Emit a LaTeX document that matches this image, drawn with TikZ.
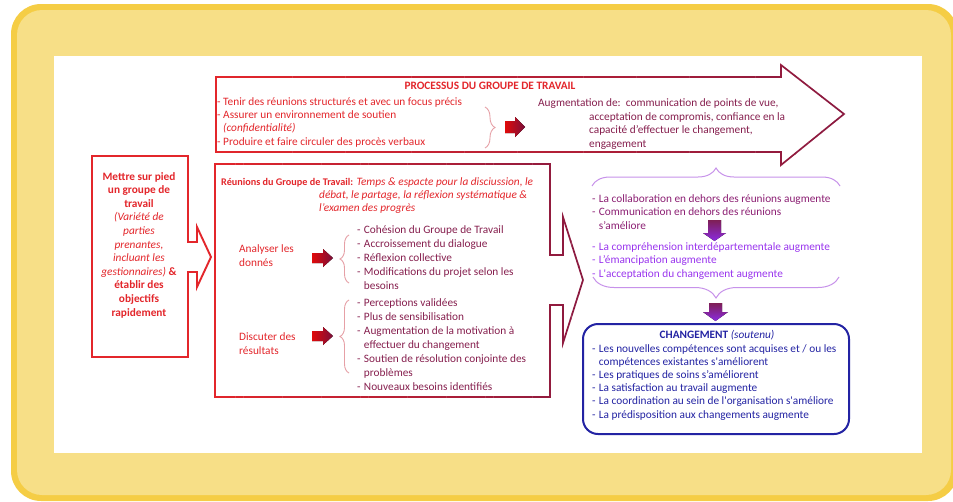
\documentclass[tikz,border=0pt]{standalone}
\usepackage{fontspec}
\setmainfont{Carlito}[Ligatures=TeXOff]
\usetikzlibrary{decorations.pathreplacing}
\definecolor{ydark}{HTML}{F5CD45}
\definecolor{ylight}{HTML}{F7DF87}
\definecolor{cred}{HTML}{E3262B}
\definecolor{cmar}{HTML}{8B1A40}
\definecolor{ctxt}{HTML}{861F4E}
\definecolor{cpur}{HTML}{8C1F73}
\definecolor{cvio}{HTML}{9A35EE}
\definecolor{cbrace}{HTML}{C792EA}
\definecolor{cblue}{HTML}{2323A3}
\definecolor{cpink}{HTML}{E6A0A6}
\definecolor{arrA}{HTML}{E00A0A}
\definecolor{arrB}{HTML}{7A0F3A}
\definecolor{darrA}{HTML}{7E1F55}
\definecolor{darrB}{HTML}{8B2BE2}
\newcommand\mylines[1]{\begin{tabular}[t]{@{}l@{}}#1\end{tabular}}
\newcommand\mycenter[1]{\begin{tabular}[t]{@{}c@{}}#1\end{tabular}}
\newcommand\mylist[1]{\begin{tabular}[t]{@{}l@{\hspace{3.3pt}}l@{}}#1\end{tabular}}
\newcommand\gradoutline[4]{%
  \foreach \k in {0,...,47}{%
    \pgfmathsetmacro\xa{#1+(#2-#1)/48*\k}%
    \pgfmathsetmacro\xb{#1+(#2-#1)/48*(\k+1)+0.3}%
    \pgfmathtruncatemacro\pc{100-100*\k/47}%
    \begin{scope}
      \clip (\xa,0) rectangle (\xb,501);
      \draw[draw=cred!\pc!cmar, line width=#3, line join=miter] #4;
    \end{scope}}}
\tikzset{
  txt/.style={inner sep=0pt, anchor=base west, font={\fontsize{11.3}{13.7}\selectfont}},
  bs132/.style={font={\fontsize{11.3}{13.2}\selectfont}},
  bs134/.style={font={\fontsize{11.3}{13.4}\selectfont}},
  bs13/.style={font={\fontsize{11.3}{13}\selectfont}},
  bs135/.style={font={\fontsize{11.3}{13.5}\selectfont}},
  bs136/.style={font={\fontsize{11.3}{13.6}\selectfont}},
  bs14/.style={font={\fontsize{11.3}{14}\selectfont}},
  rarrow/.style={left color=arrA, right color=arrB, draw=none},
  darrow/.style={top color=darrA, bottom color=darrB, draw=none},
  redbrace/.style={draw=cpink, line width=0.9pt, decorate},
  purbrace/.style={draw=cbrace, line width=1pt, decorate}
}
\begin{document}
\begin{tikzpicture}[x=1pt,y=-1pt]
\useasboundingbox (0,0) rectangle (953,501);
% background
\fill[ydark, rounded corners=30] (11,4) rectangle (958,501);
\fill[ylight, rounded corners=25] (17,10) rectangle (951,495);
\fill[white] (54,56) rectangle (922,453);

% top process arrow
\gradoutline{213}{848}{1.7pt}{(216,77) -- (781,77) -- (781,65) -- (844,114) -- (781,165) -- (781,152) -- (216,152) -- cycle}
% middle meeting box
\gradoutline{212}{587}{1.7pt}{(215,164) -- (550,164) -- (550,255) -- (563,255) -- (563,217) -- (583,280) -- (563,343) -- (563,305) -- (550,305) -- (550,397) -- (215,397) -- cycle}
% left box
\draw[cred, line width=1.9pt, line join=miter] (92,156) -- (188,156) -- (188,242) -- (197,242) -- (197,227) -- (211,257) -- (197,287) -- (197,272) -- (188,272) -- (188,357) -- (92,357) -- cycle;
% change box
\draw[cblue, line width=2pt, rounded corners=15] (583,324) rectangle (849,434);

% texts top box
\node[txt, anchor=base, text=cred] (title) at (490,89) {\textbf{PROCESSUS DU GROUPE DE TRAVAIL}};
\node[txt, bs134, text=cred] (tlist) at (217,105) {\mylines{- Tenir des réunions structurés et avec un focus précis\\- Assurer un environnement de soutien\\\hspace{6pt}\textit{(confidentialité)}\\- Produire et faire circuler des procès verbaux}};
\draw[redbrace, decoration={brace, amplitude=10pt}] (485,107) -- (485,148);
\fill[rarrow] (505,121) -- (515,121) -- (515,117) -- (525,127) -- (515,137) -- (515,133) -- (505,133) -- cycle;
\node[txt, text=ctxt] (aug1) at (538,106) {Augmentation de:\ \ communication de points de vue,};
\node[txt, text=ctxt] (aug2) at (589,120) {\mylines{acceptation de compromis, confiance en la\\capacité d’effectuer le changement,\\engagement}};

% left box text
\node[txt, bs136, anchor=base, text=cred] (start) at (139,180) {\mycenter{\textbf{Mettre sur pied}\\\textbf{un groupe de}\\\textbf{travail}\\\textit{(Variété de}\\\textit{parties}\\\textit{prenantes,}\\\textit{incluant les}\\\textit{gestionnaires)} \textbf{\&}\\\textbf{établir des}\\\textbf{objectifs}\\\textbf{rapidement}}};

% middle box texts
\node[txt, text=cred] (mh1) at (221,185) {{\fontsize{10.2}{13}\selectfont\textbf{Réunions du Groupe de Travail:}} \textit{Temps \& espacte pour la disciussion, le}};
\node[txt, bs13, text=cred] (mh2) at (319,198) {\mylines{\textit{débat, le partage, la réflexion systématique \&}\\\textit{l’examen des progrès}}};
\node[txt, bs14, text=cred] (ana) at (239,252) {\mylines{Analyser les\\donnés}};
\node[txt, bs14, text=cred] (dis) at (239,340) {\mylines{Discuter des\\résultats}};
\fill[rarrow] (312,253) -- (323,253) -- (323,249) -- (333,258) -- (323,267) -- (323,263) -- (312,263) -- cycle;
\fill[rarrow] (312,331) -- (323,331) -- (323,327) -- (333,336) -- (323,345) -- (323,341) -- (312,341) -- cycle;
\draw[redbrace, decoration={brace, amplitude=9pt}] (349,283) -- (349,235);
\draw[redbrace, decoration={brace, amplitude=9pt}] (349,373) -- (349,300);
\node[txt, bs14, text=ctxt] (l1) at (357,233) {\mylist{- & Cohésion du Groupe de Travail\\- & Accroissement du dialogue\\- & Réflexion collective\\- & Modifications du projet selon les\\ & besoins}};
\node[txt, bs14, text=ctxt] (l2) at (357,306) {\mylist{- & Perceptions validées\\- & Plus de sensibilisation\\- & Augmentation de la motivation à\\ & effectuer du changement\\- & Soutien de résolution conjointe des\\ & problèmes\\- & Nouveaux besoins identifiés}};

% purple region
\draw[purbrace, decoration={brace, amplitude=18pt}] (592,186) -- (840,186);
\draw[purbrace, decoration={brace, amplitude=21pt}] (839,277) -- (593,277);
\node[txt, bs135, text=cpur] (p1) at (592,202) {\mylist{- & La collaboration en dehors des réunions augmente\\- & Communication en dehors des réunions\\ & s’améliore}};
\fill[darrow] (708,220) -- (721,220) -- (721,233) -- (726,233) -- (714.5,241) -- (703,233) -- (708,233) -- cycle;
\node[txt, bs135, text=cvio] (p2) at (592,250) {\mylist{- & La compréhension interdépartementale augmente\\- & L’émancipation augmente\\- & L'acceptation du changement augmente}};
\fill[darrow] (709,303) -- (722,303) -- (722,312) -- (728,312) -- (715.5,321) -- (703,312) -- (709,312) -- cycle;

% change box text
\node[txt, anchor=base, text=cblue] (chg) at (717,338) {\textbf{CHANGEMENT} \textit{(soutenu)}};
\node[txt, bs132, text=cblue] (cl) at (592,352) {\mylist{- & Les nouvelles compétences sont acquises et / ou les\\ & compétences existantes s'améliorent\\- & Les pratiques de soins s’améliorent\\- & La satisfaction au travail augmente\\- & La coordination au sein de l'organisation s'améliore\\- & La prédisposition aux changements augmente}};
\end{tikzpicture}
\end{document}
